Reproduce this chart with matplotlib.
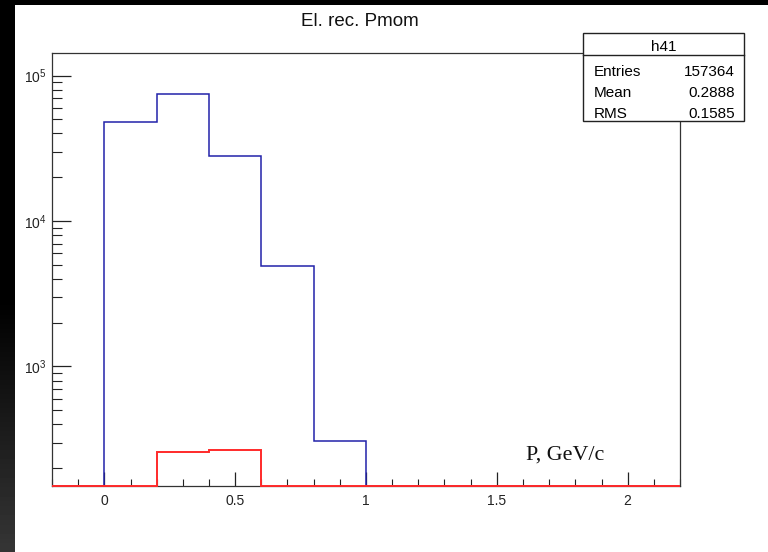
import numpy as np
import matplotlib
matplotlib.use("Agg")  # no display
import matplotlib.pyplot as plt
from matplotlib import font_manager
from matplotlib.patches import Rectangle
from matplotlib.ticker import LogLocator, NullFormatter, MultipleLocator, FixedLocator

# histogram data (bins of 0.2 GeV/c from -0.2 to 2.2)
bin_edges = np.round(np.arange(-0.2, 2.21, 0.2), 2)
blue_counts = [0, 47900, 74800, 28200, 4920, 308, 0, 0, 0, 0, 0, 0]
red_counts = [0, 0, 259, 267, 0, 0, 0, 0, 0, 0, 0, 0]

title = "El. rec. Pmom"
x_title = "P, GeV/c"
hist_name = "h41"
stats_labels = ["Entries", "Mean", "RMS"]
stats_values = ["157364", "0.2888", "0.1585"]
x_ticks = [0, 0.5, 1, 1.5, 2]
x_tick_labels = ["0", "0.5", "1", "1.5", "2"]

W, H = 768, 552
y_lo, y_hi = 152, 1.43e5

installed = {f.name for f in font_manager.fontManager.ttflist}
sans = "Liberation Sans Narrow" if "Liberation Sans Narrow" in installed else "Liberation Sans"
plt.rcParams["font.family"] = [sans, "DejaVu Sans"]


def fx(x):
    return x / W


def fy(y):
    return 1 - y / H


fig = plt.figure(figsize=(W / 100, H / 100), dpi=100, facecolor="white")

# dark canvas border (left gradient strip and top strip)
strip = fig.add_axes([0, 0, fx(15), 1])
shade = np.concatenate([np.zeros(300), np.linspace(0, 0.21, 252)])
strip.imshow(shade[:, None], cmap="gray", vmin=0, vmax=1, aspect="auto")
strip.axis("off")
fig.patches.append(Rectangle((0, fy(5)), 1, 5 / H, transform=fig.transFigure,
                             facecolor="black", edgecolor="none", zorder=5))

ax = fig.add_axes([fx(52), fy(485.5), fx(680 - 52), (485.5 - 53) / H])
ax.set_yscale("log")
ax.set_xlim(bin_edges[0], bin_edges[-1])
ax.set_ylim(y_lo, y_hi)

# empty bins sit on the frame bottom, like ROOT draws them
ax.stairs(np.maximum(blue_counts, y_lo), bin_edges, baseline=None,
          color="#2222aa", linewidth=1.1, zorder=2)
ax.stairs(np.maximum(red_counts, y_lo), bin_edges, baseline=None,
          color="#ff2a2a", linewidth=1.4, zorder=3, clip_on=False)

for side in ax.spines.values():
    side.set_color("#333333")
    side.set_linewidth(0.9)

ax.xaxis.set_major_locator(FixedLocator(x_ticks))
ax.set_xticklabels(x_tick_labels)
ax.xaxis.set_minor_locator(MultipleLocator(0.1))
ax.yaxis.set_major_locator(LogLocator(base=10, numticks=10))
ax.yaxis.set_minor_locator(LogLocator(base=10, subs=range(2, 10), numticks=10))
ax.yaxis.set_minor_formatter(NullFormatter())

ax.tick_params(which="both", direction="in", top=False, right=False,
               colors="#222222", labelsize=10)
ax.tick_params(axis="x", which="major", length=10, width=0.9, pad=6)
ax.tick_params(axis="x", which="minor", length=5, width=0.8)
ax.tick_params(axis="y", which="major", length=13.5, width=0.9, pad=4)
ax.tick_params(axis="y", which="minor", length=7.2, width=0.8)

fig.text(fx(360), fy(26), title, ha="center", va="baseline", fontsize=13.5, color="#111111")
fig.text(fx(526), fy(460), x_title, ha="left", va="baseline", fontsize=15.8,
         family="Liberation Serif", color="#111111")

# stats box
bx0, bx1, by0, by1, by_div = 583, 744, 33, 121, 55
fig.patches.append(Rectangle((fx(bx0), fy(by1)), fx(bx1 - bx0), (by1 - by0) / H,
                             transform=fig.transFigure, facecolor="white",
                             edgecolor="#222222", linewidth=1, zorder=4))
fig.lines.append(plt.Line2D([fx(bx0), fx(bx1)], [fy(by_div), fy(by_div)],
                            transform=fig.transFigure, color="#222222", linewidth=1, zorder=5))
fig.text(fx((bx0 + bx1) / 2), fy(51), hist_name, ha="center", va="baseline",
         fontsize=11, zorder=6)
for i, (lab, val) in enumerate(zip(stats_labels, stats_values)):
    yb = 75.5 + 21.5 * i
    fig.text(fx(594), fy(yb), lab, ha="left", va="baseline", fontsize=11, zorder=6)
    fig.text(fx(735), fy(yb), val, ha="right", va="baseline", fontsize=11, zorder=6)

fig.savefig("out.png", dpi=100, facecolor="white")
